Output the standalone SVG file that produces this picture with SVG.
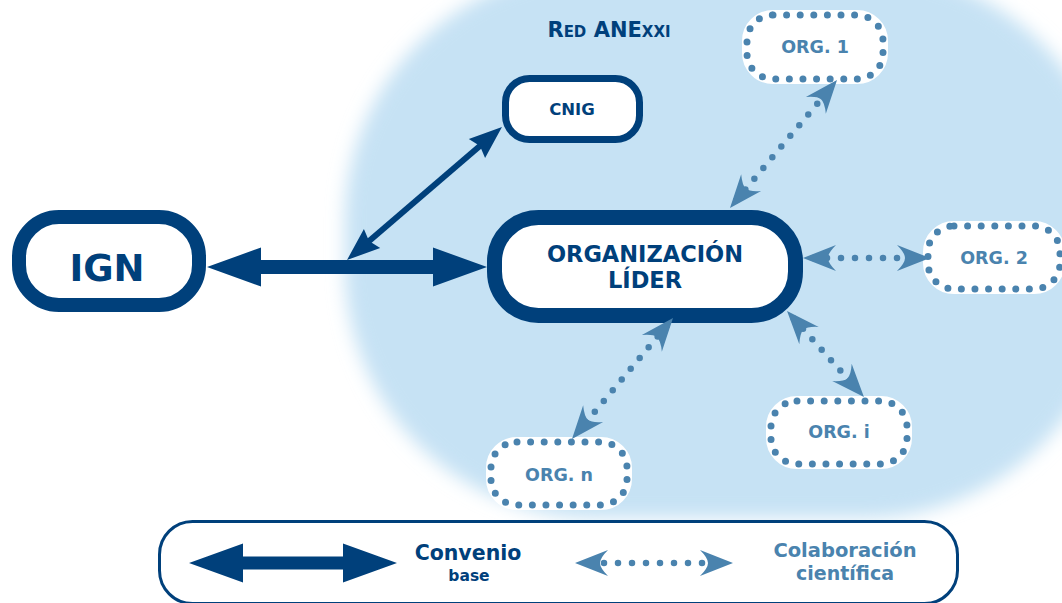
<svg xmlns="http://www.w3.org/2000/svg" width="1062" height="603" viewBox="0 0 1062 603">
<style>
text{font-family:"DejaVu Sans","Verdana","Liberation Sans",sans-serif;font-weight:bold;text-anchor:middle}
.dk{fill:#00407b}
.lt{fill:#4a83ae}
.solid{fill:#fff;stroke:#00407b}
.halo{fill:#fff;stroke:#fff;stroke-width:10}
.dots{fill:none;stroke:#4a83ae;stroke-width:7;stroke-linecap:round;stroke-dasharray:0 13.6}
.dotline{fill:none;stroke:#4a83ae;stroke-width:6.5;stroke-linecap:round;stroke-dasharray:0 14;marker-start:url(#lh);marker-end:url(#lh)}
.thick{fill:#00407b}
</style>
<defs>
<filter id="blur" x="-20%" y="-20%" width="140%" height="140%"><feGaussianBlur stdDeviation="9"/></filter>
<marker id="lh" markerUnits="userSpaceOnUse" viewBox="-35 -15 37 30" refX="-10" refY="0" markerWidth="37" markerHeight="30" orient="auto-start-reverse">
<path d="M0,0 L-33,-13 Q-25,-5 -25,0 Q-25,5 -33,13 Z" fill="#4a83ae"/>
</marker>
<marker id="dh" markerUnits="userSpaceOnUse" viewBox="-35 -15 37 30" refX="-10" refY="0" markerWidth="37" markerHeight="30" orient="auto-start-reverse">
<path d="M0,0 L-33,-12.5 L-29,0 L-33,12.5 Z" fill="#00407b"/>
</marker>
</defs>

<rect x="345" y="-30" width="770" height="548" rx="250" ry="250" fill="#c6e2f4" filter="url(#blur)"/>

<g id="legend">
<rect x="159.5" y="521.5" width="798" height="82" rx="33" fill="#fff" stroke="#00407b" stroke-width="3"/>
<polygon class="thick" points="189,563 243,543.5 243,556.5 343,556.5 343,543.5 397,563 343,582.5 343,569.5 243,569.5 243,582.5"/>
<text class="dk" x="468" y="560" font-size="20.5">Convenio</text>
<text class="dk" x="469" y="581" font-size="15.5">base</text>
<path d="M585,563 H723" class="dotline" stroke-dashoffset="-5" stroke-dasharray="0 15" stroke-width="6"/>
<text class="lt" x="845" y="557" font-size="19.5">Colaboración</text>
<text class="lt" x="845" y="580" font-size="19">científica</text>
</g>

<text id="title" class="dk" x="609" y="37" font-size="21" fill="#0b4a82">R<tspan font-size="15">ED</tspan> ANE<tspan font-size="15">XXI</tspan></text>

<g id="ign">
<rect class="solid" x="19" y="217" width="180" height="88" rx="40" stroke-width="14"/>
<text class="dk" x="107" y="281" font-size="37">IGN</text>
</g>
<g id="cnig">
<rect class="solid" x="505.5" y="78.5" width="134" height="61" rx="24" stroke-width="7"/>
<text class="dk" x="572" y="115" font-size="16.5">CNIG</text>
</g>
<g id="lider">
<rect class="solid" x="494.5" y="217.5" width="301" height="98" rx="44" stroke-width="15"/>
<text class="dk" x="645" y="262" font-size="22.5">ORGANIZACIÓN</text>
<text class="dk" x="645" y="288" font-size="22.5">LÍDER</text>
</g>
<g id="org1">
<rect class="halo" x="747" y="15" width="136" height="64" rx="26"/>
<rect class="dots" x="747" y="15" width="136" height="64" rx="26"/>
<text class="lt" x="815" y="53" font-size="17.5">ORG. 1</text>
</g>
<g id="org2">
<rect class="halo" x="928" y="226" width="132" height="63" rx="26"/>
<rect class="dots" x="928" y="226" width="132" height="63" rx="26"/>
<text class="lt" x="994" y="264" font-size="17.5">ORG. 2</text>
</g>
<g id="orgi">
<rect class="halo" x="771" y="401" width="136" height="63" rx="26"/>
<rect class="dots" x="771" y="401" width="136" height="63" rx="26"/>
<text class="lt" x="839" y="438" font-size="17.5">ORG. i</text>
</g>
<g id="orgn">
<rect class="halo" x="491" y="442" width="136" height="63" rx="26"/>
<rect class="dots" x="491" y="442" width="136" height="63" rx="26"/>
<text class="lt" x="559" y="481" font-size="17.5">ORG. n</text>
</g>

<g id="connectors">
<polygon class="thick" points="207,267 261,247.5 261,260 433,260 433,247.5 487,267 433,286.5 433,274 261,274 261,286.5"/>
<path d="M354.6,253.5 L494.4,133.5" fill="none" stroke="#00407b" stroke-width="6" marker-start="url(#dh)" marker-end="url(#dh)"/>
<path class="dotline" d="M736.4,200.3 L830.6,87.7"/>
<path class="dotline" d="M813,258 L920,258"/>
<path class="dotline" d="M793.7,318.4 L857.3,389.6"/>
<path class="dotline" d="M666.6,325.7 L578.4,431.3"/>
</g>
</svg>
